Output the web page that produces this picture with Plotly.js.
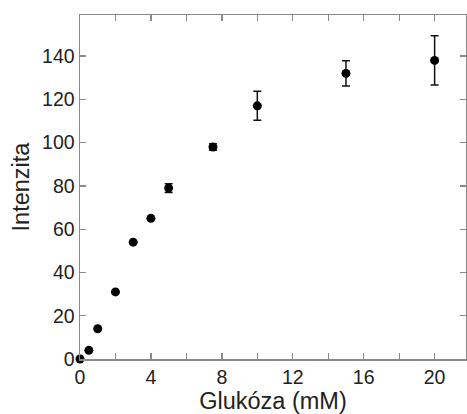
<!DOCTYPE html>
<html>
<head>
<meta charset="utf-8">
<script src="https://cdn.plot.ly/plotly-3.0.1.min.js"></script>
<style>html,body{margin:0;padding:0;overflow:hidden;background:#fff;}</style>
</head>
<body>
<div id="chart" style="width:467px;height:414px;"></div>
<script>
const glucose = [0, 0.5, 1, 2, 3, 4, 5, 7.5, 10, 15, 20];
const intensity = [0, 4, 14, 31, 54, 65, 79, 98, 117, 132, 138];
const errors = [0, 0, 0, 0, 0, 0, 2, 1.5, 6.7, 5.8, 11.4];
const xTitle = 'Glukóza (mM)';
const yTitle = 'Intenzita';

const FONT = 'Liberation Sans, Arial, sans-serif';
const trace = {
  x: glucose, y: intensity, type: 'scatter', mode: 'markers',
  marker: {color: '#000', size: 9},
  error_y: {type: 'data', array: errors, visible: true, color: '#111', thickness: 1.5, width: 4},
  cliponaxis: false, showlegend: false
};
const axisCommon = {
  showline: true, linecolor: '#8a8a8a', linewidth: 1.5, mirror: 'ticks',
  ticks: 'inside', ticklen: 6, tickwidth: 1.3, tickcolor: '#8a8a8a',
  showgrid: false, zeroline: false,
  tickfont: {family: FONT, size: 19.5, color: '#222'}
};
const layout = {
  width: 467, height: 414,
  margin: {l: 80, r: 1, t: 15, b: 55},
  paper_bgcolor: '#fff', plot_bgcolor: '#fff',
  xaxis: Object.assign({}, axisCommon, {
    range: [0, 21.77], tick0: 0, dtick: 4,
    minor: {dtick: 2, ticks: 'inside', ticklen: 6, tickwidth: 1.3, tickcolor: '#8a8a8a'},
    title: {text: xTitle, font: {family: FONT, size: 23.5, color: '#222'}, standoff: 2}
  }),
  yaxis: Object.assign({}, axisCommon, {
    range: [0, 159], tick0: 0, dtick: 20,
    title: {text: yTitle, font: {family: FONT, size: 23.5, color: '#222'}, standoff: 6}
  })
};
Plotly.newPlot('chart', [trace], layout, {displayModeBar: false, staticPlot: true});
</script>
</body>
</html>
